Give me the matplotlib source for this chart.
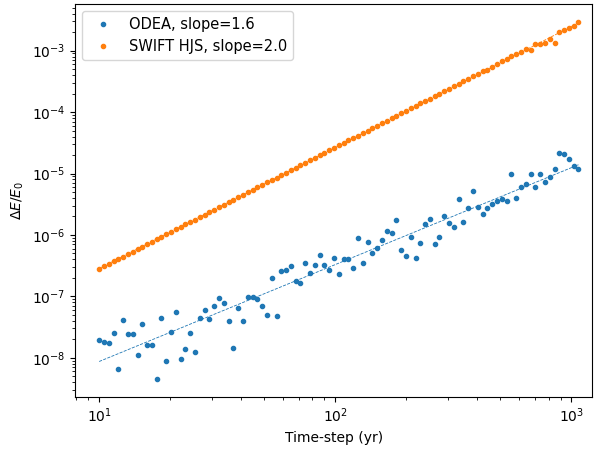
import matplotlib
matplotlib.use("Agg")
import matplotlib.pyplot as plt
import numpy as np

# time-step grid (yr)
timestep = [10.00, 10.48, 10.98, 11.50, 12.06, 12.63, 13.24, 13.87, 14.54, 15.23,
            15.96, 16.72, 17.52, 18.36, 19.24, 20.16, 21.13, 22.14, 23.20, 24.31,
            25.47, 26.69, 27.97, 29.31, 30.71, 32.18, 33.72, 35.33, 37.02, 38.80,
            40.64, 42.59, 44.63, 46.77, 49.00, 51.34, 53.80, 56.38, 59.07, 61.90,
            64.86, 67.97, 71.22, 74.63, 78.20, 81.94, 85.86, 89.97, 94.28, 98.79,
            103.5, 108.5, 113.6, 119.1, 124.8, 130.8, 137.0, 143.6, 150.4, 157.7,
            165.2, 173.1, 181.4, 190.1, 199.2, 208.7, 218.7, 229.2, 240.2, 251.7,
            263.6, 276.3, 289.5, 303.4, 317.8, 333.1, 349.0, 365.7, 383.2, 401.6,
            420.7, 440.9, 462.0, 484.1, 507.3, 531.6, 557.0, 583.7, 611.6, 640.9,
            671.4, 703.6, 737.3, 772.6, 809.5, 848.3, 888.9, 931.4, 976.0, 1022.6,
            1071.5]

# relative energy error, ODEA
odea_err = [1.96e-8, 1.84e-8, 1.73e-8, 2.58e-8, 6.63e-9, 4.15e-8, 2.43e-8, 2.46e-8, 1.12e-8, 3.53e-8,
            1.63e-8, 1.63e-8, 4.51e-9, 4.52e-8, 8.94e-9, 2.68e-8, 5.60e-8, 9.74e-9, 1.38e-8, 2.52e-8,
            1.25e-8, 4.52e-8, 5.97e-8, 4.26e-8, 7.01e-8, 9.46e-8, 7.84e-8, 4.00e-8, 1.42e-8, 6.58e-8,
            4.00e-8, 9.93e-8, 9.70e-8, 9.00e-8, 7.01e-8, 4.94e-8, 2.00e-7, 4.76e-8, 2.63e-7, 2.70e-7,
            3.17e-7, 1.81e-7, 1.66e-7, 3.55e-7, 2.38e-7, 3.25e-7, 4.73e-7, 3.25e-7, 2.73e-7, 4.18e-7,
            2.35e-7, 4.12e-7, 4.12e-7, 2.91e-7, 8.94e-7, 3.47e-7, 7.69e-7, 5.10e-7, 6.08e-7, 8.30e-7,
            1.148e-6, 1.066e-6, 1.73e-6, 5.77e-7, 4.51e-7, 9.28e-7, 4.18e-7, 7.41e-7, 1.49e-6, 1.82e-6,
            7.14e-7, 9.38e-7, 2.04e-6, 1.57e-6, 1.35e-6, 3.92e-6, 1.61e-6, 2.75e-6, 5.19e-6, 2.88e-6,
            2.22e-6, 2.78e-6, 3.19e-6, 3.57e-6, 3.85e-6, 3.57e-6, 9.93e-6, 4.04e-6, 6.03e-6, 6.67e-6,
            9.70e-6, 5.97e-6, 9.70e-6, 7.28e-6, 8.77e-6, 1.197e-5, 2.13e-5, 2.05e-5, 1.72e-5, 1.31e-5,
            1.18e-5]

# relative energy error, SWIFT HJS
swift_err = [2.80e-7, 3.07e-7, 3.37e-7, 3.70e-7, 4.05e-7, 4.45e-7, 4.88e-7, 5.35e-7, 5.87e-7, 6.44e-7,
             7.07e-7, 7.75e-7, 8.50e-7, 9.33e-7, 1.023e-6, 1.123e-6, 1.231e-6, 1.351e-6, 1.482e-6, 1.626e-6,
             1.783e-6, 1.956e-6, 2.146e-6, 2.354e-6, 2.582e-6, 2.83e-6, 3.11e-6, 3.41e-6, 3.74e-6, 4.10e-6,
             4.50e-6, 4.94e-6, 5.41e-6, 5.94e-6, 6.51e-6, 7.15e-6, 7.84e-6, 8.60e-6, 9.44e-6, 1.035e-5,
             1.136e-5, 1.246e-5, 1.367e-5, 1.499e-5, 1.645e-5, 1.804e-5, 1.979e-5, 2.171e-5, 2.381e-5, 2.612e-5,
             2.865e-5, 3.14e-5, 3.45e-5, 3.78e-5, 4.15e-5, 4.55e-5, 4.99e-5, 5.47e-5, 6.01e-5, 6.59e-5,
             7.23e-5, 7.93e-5, 8.70e-5, 9.54e-5, 1.047e-4, 1.149e-4, 1.260e-4, 1.382e-4, 1.517e-4, 1.664e-4,
             1.825e-4, 2.002e-4, 2.196e-4, 2.409e-4, 2.642e-4, 2.90e-4, 3.18e-4, 3.49e-4, 3.83e-4, 4.20e-4,
             4.61e-4, 4.82e-4, 5.46e-4, 6.09e-4, 6.75e-4, 7.36e-4, 8.05e-4, 8.67e-4, 9.35e-4, 1.057e-3,
             1.019e-3, 1.262e-3, 1.291e-3, 1.324e-3, 1.578e-3, 1.358e-3, 2.02e-3, 2.18e-3, 2.30e-3, 2.53e-3,
             2.94e-3]

labels = ['ODEA, slope=1.6', 'SWIFT HJS, slope=2.0']


def power_fit(x, y):
    p = np.polyfit(np.log10(x), np.log10(y), 1)
    return 10 ** np.polyval(p, np.log10(x))


def draw_plot():
    x = np.array(timestep)
    fig, ax = plt.subplots(figsize=(6, 4.5), dpi=100)

    for y, lab, c in [(odea_err, labels[0], 'C0'), (swift_err, labels[1], 'C1')]:
        y = np.array(y)
        ax.plot(x, y, '.', color=c, label=lab)
        ax.plot(x, power_fit(x, y), '--', lw=0.6, color=c)

    ax.set_xscale('log')
    ax.set_yscale('log')
    ax.set_xlim(7.9, 1225)
    ax.set_xlabel('Time-step (yr)')
    ax.set_ylabel(r'$\Delta E/E_0$')
    ax.legend(loc='upper left', handlelength=2.0, handletextpad=0.8,
              borderpad=0.4, fontsize=10.5)

    plt.subplots_adjust(left=0.125, right=0.987, top=0.991, bottom=0.118)
    plt.savefig('out.png')


def main():
    draw_plot()


if __name__ == "__main__":
    main()
